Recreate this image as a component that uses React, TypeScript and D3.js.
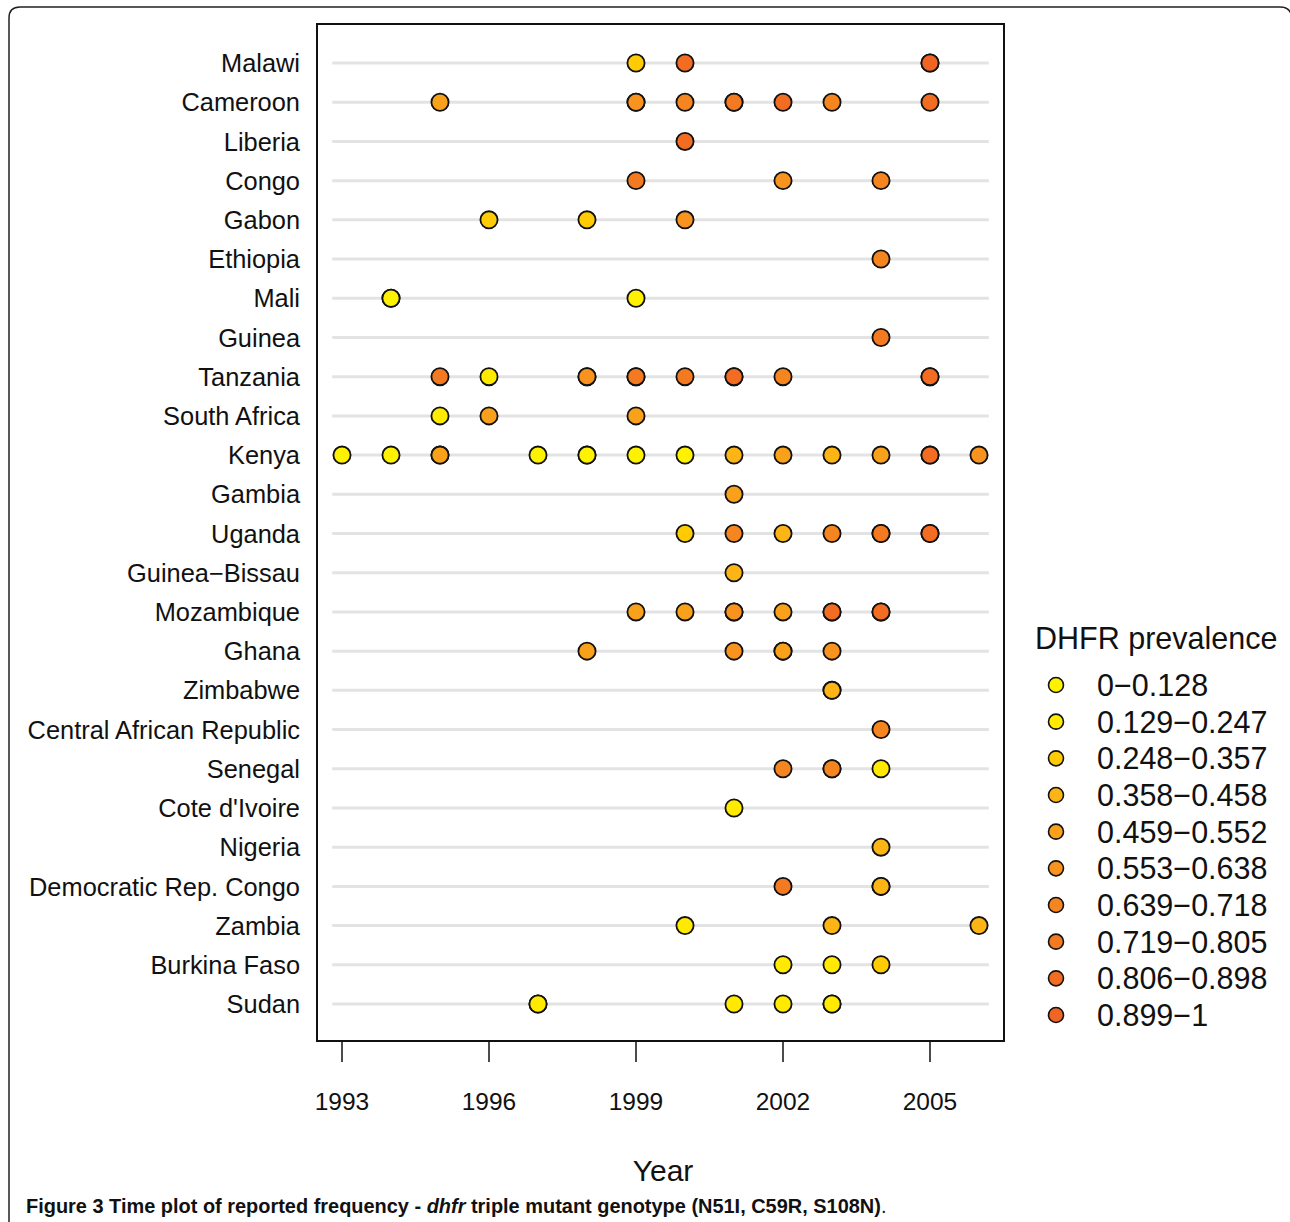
import React from "react";
import * as d3 from "d3";

const countries = [
  "Malawi", "Cameroon", "Liberia", "Congo", "Gabon", "Ethiopia", "Mali", "Guinea",
  "Tanzania", "South Africa", "Kenya", "Gambia", "Uganda", "Guinea\u2212Bissau",
  "Mozambique", "Ghana", "Zimbabwe", "Central African Republic", "Senegal",
  "Cote d'Ivoire", "Nigeria", "Democratic Rep. Congo", "Zambia", "Burkina Faso", "Sudan",
];

// [year, prevalence] per country (duplicates = overlapping reports)
const malawi = [[1999, 0.3], [2000, 0.85], [2005, 0.85], [2005, 0.9]];
const cameroon = [[1995, 0.5], [1999, 0.6], [1999, 0.62], [2000, 0.68], [2001, 0.76], [2001, 0.78], [2002, 0.85], [2003, 0.68], [2005, 0.85]];
const liberia = [[2000, 0.85]];
const congo = [[1999, 0.76], [2002, 0.6], [2004, 0.68]];
const gabon = [[1996, 0.3], [1998, 0.3], [2000, 0.6]];
const ethiopia = [[2004, 0.68]];
const mali = [[1994, 0.05], [1994, 0.08], [1999, 0.05]];
const guinea = [[2004, 0.76]];
const tanzania = [[1995, 0.76], [1996, 0.2], [1998, 0.6], [1998, 0.62], [1999, 0.76], [1999, 0.78], [2000, 0.76], [2001, 0.85], [2001, 0.86], [2002, 0.68], [2005, 0.85], [2005, 0.87]];
const southAfrica = [[1995, 0.2], [1996, 0.5], [1999, 0.5]];
const kenya = [[1993, 0.05], [1994, 0.05], [1995, 0.5], [1995, 0.52], [1997, 0.05], [1998, 0.05], [1998, 0.08], [1999, 0.05], [2000, 0.05], [2001, 0.4], [2002, 0.5], [2003, 0.4], [2004, 0.5], [2005, 0.85], [2005, 0.87], [2006, 0.6]];
const gambia = [[2001, 0.5]];
const uganda = [[2000, 0.3], [2001, 0.68], [2002, 0.4], [2003, 0.68], [2004, 0.76], [2004, 0.78], [2005, 0.85], [2005, 0.87]];
const guineaBissau = [[2001, 0.4]];
const mozambique = [[1999, 0.5], [2000, 0.5], [2001, 0.6], [2001, 0.62], [2002, 0.5], [2003, 0.85], [2003, 0.86], [2004, 0.85], [2004, 0.86]];
const ghana = [[1998, 0.5], [2001, 0.6], [2002, 0.5], [2002, 0.52], [2003, 0.6]];
const zimbabwe = [[2003, 0.4], [2003, 0.42]];
const car = [[2004, 0.68]];
const senegal = [[2002, 0.68], [2003, 0.68], [2003, 0.7], [2004, 0.2]];
const coteDIvoire = [[2001, 0.2]];
const nigeria = [[2004, 0.4]];
const drc = [[2002, 0.76], [2004, 0.4], [2004, 0.42]];
const zambia = [[2000, 0.2], [2003, 0.4], [2006, 0.4]];
const burkinaFaso = [[2002, 0.2], [2003, 0.2], [2004, 0.3]];
const sudan = [[1997, 0.2], [1997, 0.22], [2001, 0.2], [2002, 0.2], [2003, 0.2], [2003, 0.22]];

const seriesByCountry = [
  malawi, cameroon, liberia, congo, gabon, ethiopia, mali, guinea, tanzania, southAfrica,
  kenya, gambia, uganda, guineaBissau, mozambique, ghana, zimbabwe, car, senegal,
  coteDIvoire, nigeria, drc, zambia, burkinaFaso, sudan,
];

const yearTicks = [1993, 1996, 1999, 2002, 2005];
const breaks = [0.128, 0.247, 0.357, 0.458, 0.552, 0.638, 0.718, 0.805, 0.898];
const legendLabels = [
  "0\u22120.128", "0.129\u22120.247", "0.248\u22120.357", "0.358\u22120.458", "0.459\u22120.552",
  "0.553\u22120.638", "0.639\u22120.718", "0.719\u22120.805", "0.806\u22120.898", "0.899\u22121",
];
const palette = [
  "#FFF200", "#FFEA00", "#FFCB05", "#FDB515", "#F9A11B",
  "#F7931E", "#F5861F", "#F37A20", "#F26C22", "#F16524",
];

const FONT = "'Liberation Sans', Arial, Helvetica, sans-serif";

export default function App() {
  const W = 1290, H = 1222;
  const box = { x0: 317, x1: 1004, y0: 24, y1: 1041 };
  const x = d3.scaleLinear().domain([1993, 2005]).range([342, 930]);
  const y = d3.scalePoint<string>().domain(countries).range([63, 1004]);
  const color = d3.scaleThreshold<number, string>().domain(breaks).range(palette);
  const legendY = d3.scalePoint<string>().domain(legendLabels).range([685, 1015]);
  const gridX0 = x(1992.8), gridX1 = x(2006.2);

  const points = seriesByCountry.flatMap((s, i) =>
    s.map(([yr, v], j) => ({ key: `${i}-${j}`, country: countries[i], yr, v }))
  );

  return (
    <svg width={W} height={H} style={{ position: "absolute", left: 0, top: 0, background: "#fff" }}>
      {/* outer frame */}
      <path
        d={`M9,${H + 2} L9,18 Q9,7 20,7 L1280,7 Q1289,7 1291,14`}
        fill="none" stroke="#222" strokeWidth={1.5}
      />
      {/* grid lines */}
      {countries.map((c) => (
        <line key={c} x1={gridX0} x2={gridX1} y1={y(c)} y2={y(c)} stroke="#e3e3e3" strokeWidth={3} />
      ))}
      {/* points */}
      {points.map((p) => (
        <circle key={p.key} cx={x(p.yr)} cy={y(p.country)} r={8.6}
          fill={color(p.v)} stroke="#111" strokeWidth={1.8} />
      ))}
      {/* plot box */}
      <rect x={box.x0} y={box.y0} width={box.x1 - box.x0} height={box.y1 - box.y0}
        fill="none" stroke="#111" strokeWidth={2} />
      {/* country labels */}
      {countries.map((c) => (
        <text key={c} x={300} y={y(c)} dy="0.36em" textAnchor="end" fontFamily={FONT}
          fontSize={25.4} fill="#111">{c}</text>
      ))}
      {/* x axis */}
      {yearTicks.map((t) => (
        <g key={t}>
          <line x1={x(t)} x2={x(t)} y1={box.y1} y2={1062} stroke="#111" strokeWidth={1.5} />
          <text x={x(t)} y={1101} dy="0.36em" textAnchor="middle" fontFamily={FONT}
            fontSize={24.5} fill="#111">{t}</text>
        </g>
      ))}
      <text x={663} y={1170} dy="0.36em" textAnchor="middle" fontFamily={FONT} fontSize={30} fill="#111">Year</text>
      {/* legend */}
      <text x={1035} y={638} dy="0.36em" fontFamily={FONT} fontSize={30.5} fill="#111">DHFR prevalence</text>
      {legendLabels.map((l, i) => (
        <g key={l}>
          <circle cx={1056} cy={legendY(l)} r={7.5} fill={palette[i]} stroke="#111" strokeWidth={1.6} />
          <text x={1097} y={legendY(l)} dy="0.36em" fontFamily={FONT} fontSize={30.5} fill="#111">{l}</text>
        </g>
      ))}
      {/* caption */}
      <text x={26} y={1213} fontFamily={FONT} fontSize={19.95} fill="#111" fontWeight="bold">
        <tspan>Figure 3 </tspan>
        <tspan>Time plot of reported frequency - </tspan>
        <tspan fontStyle="italic">dhfr</tspan>
        <tspan> triple mutant genotype (N51I, C59R, S108N)</tspan>
        <tspan fontWeight="normal">.</tspan>
      </text>
    </svg>
  );
}
